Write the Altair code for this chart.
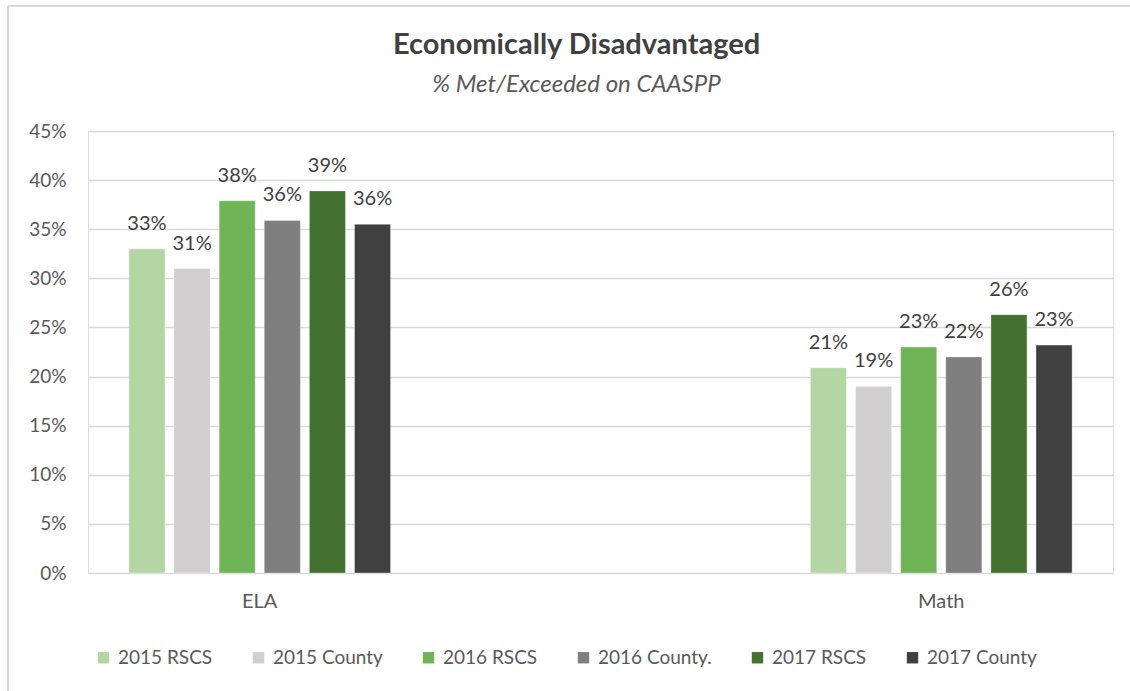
import altair as alt
import pandas as pd

subjects = ["ELA", "Math"]
series = ["2015 RSCS", "2015 County", "2016 RSCS", "2016 County.", "2017 RSCS", "2017 County"]
colors = ["#b4d6a4", "#d0cece", "#70b458", "#7f7f7f", "#427130", "#404040"]
ela_values = [0.330, 0.310, 0.379, 0.359, 0.389, 0.355]
math_values = [0.209, 0.190, 0.230, 0.220, 0.263, 0.232]
y_ticks = [0, 0.05, 0.10, 0.15, 0.20, 0.25, 0.30, 0.35, 0.40, 0.45]

rows = []
for s, v in zip(series, ela_values):
    rows.append({"subject": "ELA", "series": s, "value": v})
for s, v in zip(series, math_values):
    rows.append({"subject": "Math", "series": s, "value": v})
df = pd.DataFrame(rows)

FONT = "Lato"
TXT = "#595959"

base = alt.Chart(df).encode(
    x=alt.X("subject:N", sort=subjects, title=None,
            scale=alt.Scale(paddingInner=0.616, paddingOuter=0.06),
            axis=alt.Axis(labelAngle=0, labelFontSize=20, labelColor=TXT, labelFont=FONT,
                          labelPadding=18, domain=False, ticks=False, grid=False)),
    xOffset=alt.XOffset("series:N", sort=series,
                        scale=alt.Scale(paddingInner=0.2, paddingOuter=0)),
)

bars = base.mark_bar(stroke="white", strokeOpacity=0.35, strokeWidth=1).encode(
    y=alt.Y("value:Q", title=None,
            scale=alt.Scale(domain=[0, 0.45], nice=False),
            axis=alt.Axis(values=y_ticks, format=".0%", labelFontSize=19, labelColor=TXT,
                          labelFont=FONT, labelPadding=22, domain=False, ticks=False,
                          grid=True, gridColor="#d9d9d9", gridWidth=1.5)),
    color=alt.Color("series:N", sort=series,
                    scale=alt.Scale(domain=series, range=colors),
                    legend=alt.Legend(title=None, orient="none", legendX=6, legendY=517,
                                      direction="horizontal", columns=6, columnPadding=36,
                                      symbolType="square", symbolSize=130, symbolStrokeWidth=0,
                                      labelFontSize=19, labelColor=TXT, labelFont=FONT,
                                      labelOffset=5)),
)

labels = base.mark_text(baseline="alphabetic", dy=-19, fontSize=20, font=FONT, color="#404040").encode(
    y=alt.Y("value:Q"),
    text=alt.Text("value:Q", format=".0%"),
)

frame_df = pd.DataFrame({"k": [0]})
frame_top = alt.Chart(frame_df).mark_rule(color="#d9d9d9", strokeWidth=2).encode(
    x=alt.value(-80), x2=alt.value(1042), y=alt.value(-125))
frame_left = alt.Chart(frame_df).mark_rule(color="#d9d9d9", strokeWidth=2).encode(
    x=alt.value(-80), y=alt.value(-125), y2=alt.value(560))

chart = alt.layer(frame_top, frame_left, bars, labels).properties(
    width=1025,
    height=442,
    title=alt.TitleParams(
        text="Economically Disadvantaged",
        subtitle="% Met/Exceeded on CAASPP",
        font=FONT, fontSize=29, fontWeight="bold", color="#404040",
        subtitleFont=FONT, subtitleFontSize=24, subtitleFontStyle="italic", subtitleColor=TXT,
        subtitlePadding=13, anchor="middle", dx=-24, offset=-92,
    ),
    autosize=alt.AutoSizeParams(type="none"),
    padding={"left": 88, "top": 131, "right": 17, "bottom": 118},
).configure_view(stroke=None).configure(background="white")

chart.save("out.html", embed_options={"renderer": "svg", "actions": False})
